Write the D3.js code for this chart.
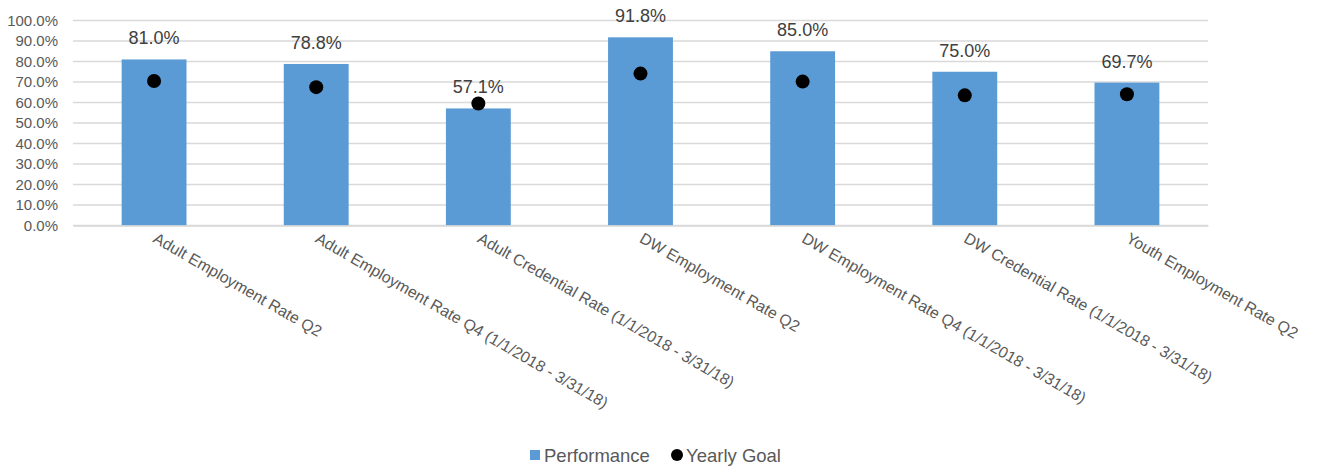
<!DOCTYPE html>
<html><head><meta charset="utf-8">
<script src="https://cdn.jsdelivr.net/npm/d3@7"></script>
<style>body{margin:0;background:#fff;font-family:"Liberation Sans",Arial,sans-serif;}</style>
</head><body><svg id="c" width="1319" height="468"></svg>
<script>
const categories = ["Adult Employment Rate Q2","Adult Employment Rate Q4 (1/1/2018 - 3/31/18)","Adult Credential Rate (1/1/2018 - 3/31/18)","DW Employment Rate Q2","DW Employment Rate Q4 (1/1/2018 - 3/31/18)","DW Credential Rate (1/1/2018 - 3/31/18)","Youth Employment Rate Q2"];
const performance = [81.0, 78.8, 57.1, 91.8, 85.0, 75.0, 69.7];
const yearlyGoal = [70.5, 67.5, 59.5, 74.1, 70.2, 63.5, 64.0];
const yTicks = [0,10,20,30,40,50,60,70,80,90,100];

const svg = d3.select("#c");
const L = 73, R = 1208, T = 20.5, B = 225.5;
const x = d3.scaleBand().domain(categories).range([L, R]).padding(0);
const y = d3.scaleLinear().domain([0, 100]).range([B, T]);
const fmt = v => v.toFixed(1) + "%";

// gridlines
svg.append("g").selectAll("line").data(yTicks).join("line")
  .attr("x1", L).attr("x2", R).attr("y1", d => y(d)).attr("y2", d => y(d))
  .attr("stroke", "#d9d9d9").attr("stroke-width", 1.5);

// y axis labels
const yAxis = svg.append("g").attr("transform", `translate(${L},0)`)
  .call(d3.axisLeft(y).tickValues(yTicks).tickFormat(fmt).tickSize(0).tickPadding(15));
yAxis.select(".domain").remove();
yAxis.selectAll("text").attr("font-size", 15).attr("fill", "#595959").attr("font-family", "Liberation Sans, Arial, sans-serif");

// bars
const bw = x.bandwidth() * 0.4;
svg.append("g").selectAll("rect").data(performance).join("rect")
  .attr("x", (d, i) => x(categories[i]) + x.bandwidth() / 2 - bw / 2)
  .attr("width", bw)
  .attr("y", d => y(d)).attr("height", d => B - y(d))
  .attr("fill", "#5b9bd5");

// x axis
const xAxis = svg.append("g").attr("transform", `translate(0,${B})`)
  .call(d3.axisBottom(x).tickSize(0).tickPadding(0));
xAxis.select(".domain").attr("stroke", "#d9d9d9").attr("stroke-width", 1.5);
xAxis.selectAll("text")
  .attr("font-size", 15.8).attr("fill", "#595959").attr("font-family", "Liberation Sans, Arial, sans-serif")
  .attr("text-anchor", "start").attr("dy", null).attr("y", 0)
  .attr("transform", "translate(-2,16) rotate(30)");

// data labels
svg.append("g").selectAll("text").data(performance).join("text")
  .attr("x", (d, i) => x(categories[i]) + x.bandwidth() / 2)
  .attr("y", d => y(d) - 15)
  .attr("text-anchor", "middle").attr("font-size", 18).attr("fill", "#404040")
  .text(fmt);

// goal dots
svg.append("g").selectAll("circle").data(yearlyGoal).join("circle")
  .attr("cx", (d, i) => x(categories[i]) + x.bandwidth() / 2)
  .attr("cy", d => y(d)).attr("r", 7).attr("fill", "#000");

// legend
const lg = svg.append("g");
lg.append("rect").attr("x", 530).attr("y", 450).attr("width", 10).attr("height", 10).attr("fill", "#5b9bd5");
lg.append("text").attr("x", 544).attr("y", 462).attr("font-size", 18.5).attr("fill", "#595959").text("Performance");
lg.append("circle").attr("cx", 677).attr("cy", 455).attr("r", 6).attr("fill", "#000");
lg.append("text").attr("x", 686).attr("y", 462).attr("font-size", 18.5).attr("fill", "#595959").text("Yearly Goal");
</script></body></html>
